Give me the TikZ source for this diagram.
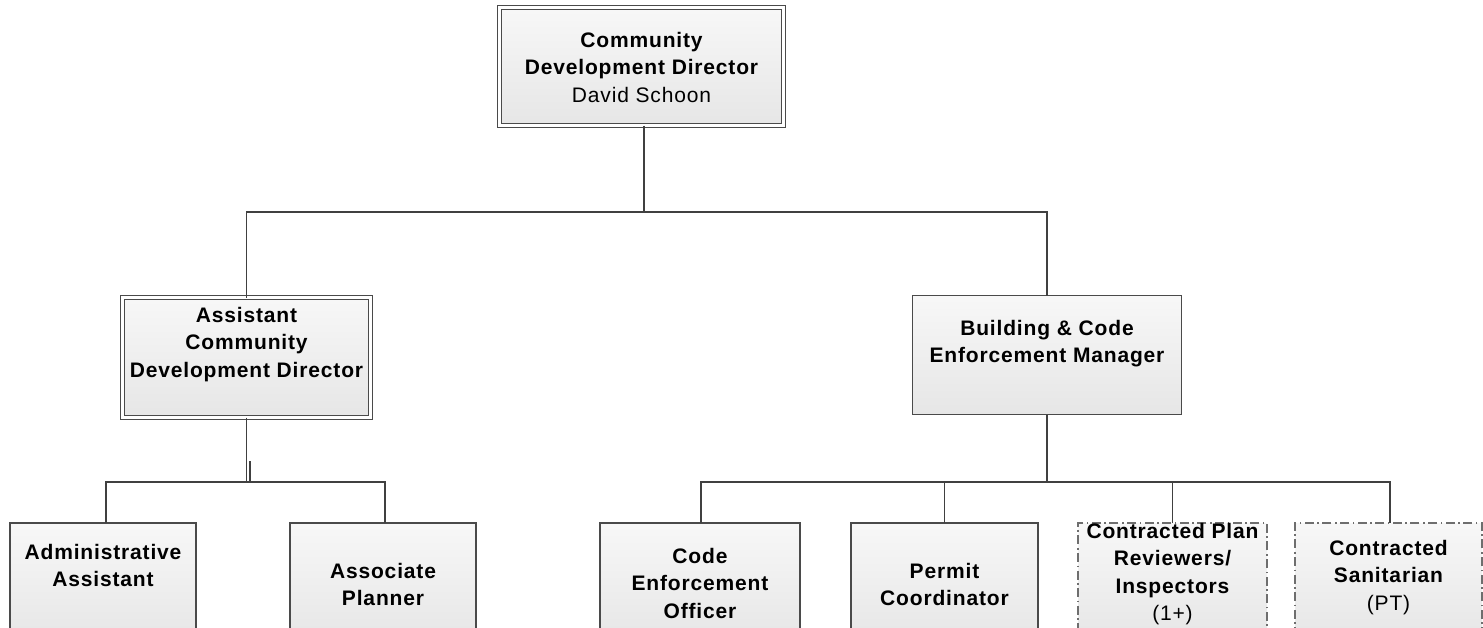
\documentclass[tikz,border=0pt]{standalone}
\usepackage{fontspec}
\newfontfamily\chartfont[LetterSpace=4]{Liberation Sans}
\definecolor{frame}{HTML}{4A4A4A}
\definecolor{wire}{HTML}{404040}
\definecolor{shade}{HTML}{E6E6E6}
\tikzset{
  box/.style={draw=frame, line width=1.6pt, top color=white!97!black, bottom color=shade,
    shape=rectangle, inner sep=0pt, outer sep=0pt},
  dbox/.style={box, line width=1.5pt, double=white, double distance=2.2pt},
  cbox/.style={box, draw=frame!80, line width=1.3pt,
    dash pattern=on 9pt off 3.5pt on 1.6pt off 3.5pt},
  lbl/.style={font=\chartfont\fontsize{21}{27.5}\selectfont\bfseries,
    align=center, inner sep=0pt, anchor=north, text=black},
  link/.style={draw=wire, line width=1.6pt}
}
\begin{document}
\begin{tikzpicture}[x=1pt, y=-1pt]
\useasboundingbox (0,0) rectangle (1483,627);
\clip (0,0) rectangle (1483,627);

% boxes
\node[dbox, minimum width=284pt, minimum height=118pt] (cdd)  at (641.5,66.5) {};
\node[dbox, minimum width=248pt, minimum height=120pt] (acdd) at (246.5,357.5) {};
\node[box,  minimum width=269pt, minimum height=119pt] (bcem) at (1047,355) {};

\node[box,  minimum width=186pt, minimum height=120pt] (aa)  at (103,583) {};
\node[box,  minimum width=186pt, minimum height=120pt] (ap)  at (383,583) {};
\node[box,  minimum width=200pt, minimum height=120pt] (ceo) at (700,583) {};
\node[box,  minimum width=187pt, minimum height=120pt] (pc)  at (944.5,583) {};
\node[cbox, minimum width=189pt, minimum height=120pt] (cpr) at (1172.5,583) {};
\node[cbox, minimum width=187pt, minimum height=120pt] (cs)  at (1388.5,583) {};

% connectors
\coordinate (bus1) at (644,212);
\coordinate (bus2) at (246.5,482);
\coordinate (bus3) at (1047,482);
\coordinate (stub) at (250,461);

\draw[link] (cdd.south -| bus1) -- (bus1);
\draw[link] (acdd.north) |- (bus1) -| (bcem.north);

\draw[link] (acdd.south) -- (bus2);
\draw[link] (stub) -- (stub |- bus2);
\draw[link] ([xshift=3pt]aa.north) |- (bus2) -| ([xshift=2pt]ap.north);

\draw[link] (bcem.south) -- (bus3);
\draw[link] ([xshift=1pt]ceo.north) |- (bus3) -| ([xshift=1.5pt]cs.north);
\draw[link] (pc.north) -- (pc.north |- bus3);
\draw[link] (cpr.north) -- (cpr.north |- bus3);

% labels
\node[lbl] (t-cdd)  at (641.5,31.7)  {Community\\Development Director\\\mdseries David Schoon};
\node[lbl] (t-acdd) at (246.5,306.7) {Assistant\\Community\\Development Director};
\node[lbl] (t-bcem) at (1047,319.7)  {Building \& Code\\Enforcement Manager};
\node[lbl] (t-aa)   at (103,543.7)   {Administrative\\Assistant};
\node[lbl] (t-ap)   at (383,562.7)   {Associate\\Planner};
\node[lbl] (t-ceo)  at (700,547.7)   {Code\\Enforcement\\Officer};
\node[lbl] (t-pc)   at (944.5,562.7) {Permit\\Coordinator};
\node[lbl] (t-cpr)  at (1172.5,522.7) {Contracted Plan\\Reviewers/\\Inspectors\\\mdseries (1+)};
\node[lbl] (t-cs)   at (1388.5,539.7) {Contracted\\Sanitarian\\\mdseries (PT)};
\end{tikzpicture}
\end{document}
